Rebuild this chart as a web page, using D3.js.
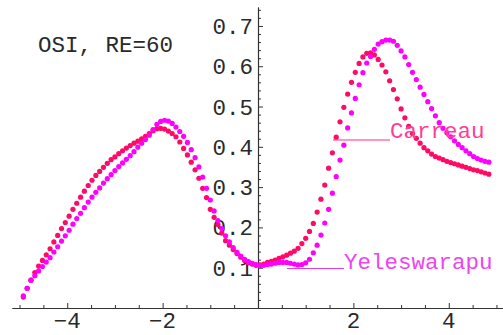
<!DOCTYPE html>
<html><head><meta charset="utf-8">
<script src="https://cdn.jsdelivr.net/npm/d3@7"></script>
<style>
html,body{margin:0;padding:0;background:#fff;}
svg{display:block;}
text{font-family:"Liberation Mono","DejaVu Sans Mono",monospace;}
</style></head>
<body>
<svg id="c" width="503" height="335"></svg>
<script>
const xValues = [
-4.92,-4.84,-4.76,-4.68,-4.60,-4.52,-4.44,-4.36,-4.28,-4.20,
-4.12,-4.04,-3.96,-3.88,-3.80,-3.72,-3.64,-3.56,-3.48,-3.40,
-3.32,-3.24,-3.16,-3.08,-3.00,-2.92,-2.84,-2.76,-2.68,-2.60,
-2.52,-2.44,-2.36,-2.28,-2.20,-2.12,-2.04,-1.96,-1.88,-1.80,
-1.72,-1.64,-1.56,-1.48,-1.40,-1.32,-1.24,-1.16,-1.08,-1.00,
-0.92,-0.84,-0.76,-0.68,-0.60,-0.52,-0.44,-0.36,-0.28,-0.20,
-0.12,-0.04,0.04,0.12,0.20,0.28,0.36,0.44,0.52,0.60,
0.68,0.76,0.84,0.92,1.00,1.08,1.16,1.24,1.32,1.40,
1.48,1.56,1.64,1.72,1.80,1.88,1.96,2.04,2.12,2.20,
2.28,2.36,2.44,2.52,2.60,2.68,2.76,2.84,2.92,3.00,
3.08,3.16,3.24,3.32,3.40,3.48,3.56,3.64,3.72,3.80,
3.88,3.96,4.04,4.12,4.20,4.28,4.36,4.44,4.52,4.60,
4.68,4.76,4.84];

const carreau = [
0.027,0.049,0.069,0.088,0.104,0.118,0.132,0.147,0.164,0.180,
0.197,0.212,0.228,0.245,0.260,0.275,0.290,0.304,0.317,0.329,
0.339,0.349,0.359,0.368,0.375,0.383,0.390,0.397,0.403,0.409,
0.414,0.420,0.426,0.433,0.440,0.445,0.446,0.444,0.439,0.433,
0.425,0.412,0.396,0.380,0.362,0.343,0.322,0.297,0.274,0.245,
0.225,0.207,0.186,0.167,0.156,0.145,0.135,0.126,0.118,0.112,
0.109,0.106,0.107,0.109,0.113,0.116,0.119,0.123,0.127,0.131,
0.136,0.141,0.148,0.160,0.173,0.190,0.210,0.238,0.270,0.305,
0.347,0.385,0.424,0.462,0.498,0.531,0.560,0.585,0.607,0.623,
0.632,0.633,0.628,0.617,0.603,0.586,0.564,0.542,0.519,0.494,
0.472,0.451,0.433,0.421,0.409,0.398,0.390,0.382,0.376,0.372,
0.368,0.364,0.361,0.358,0.355,0.352,0.349,0.346,0.343,0.341,
0.338,0.335,0.332];

const yeleswarapu = [
0.030,0.049,0.069,0.080,0.092,0.103,0.114,0.125,0.139,0.152,
0.166,0.179,0.193,0.208,0.222,0.235,0.249,0.263,0.275,0.287,
0.298,0.310,0.321,0.331,0.341,0.351,0.360,0.369,0.378,0.388,
0.399,0.409,0.418,0.429,0.443,0.456,0.463,0.466,0.464,0.458,
0.449,0.438,0.426,0.411,0.393,0.373,0.350,0.325,0.297,0.268,
0.241,0.217,0.197,0.179,0.164,0.150,0.138,0.129,0.121,0.115,
0.111,0.108,0.105,0.106,0.108,0.109,0.111,0.113,0.113,0.113,
0.111,0.109,0.107,0.108,0.112,0.121,0.137,0.156,0.181,0.211,
0.245,0.285,0.326,0.367,0.404,0.447,0.484,0.520,0.554,0.584,
0.608,0.624,0.642,0.655,0.661,0.665,0.665,0.662,0.652,0.638,
0.623,0.604,0.585,0.567,0.548,0.530,0.512,0.495,0.477,0.460,
0.446,0.435,0.425,0.415,0.406,0.398,0.390,0.383,0.376,0.371,
0.367,0.364,0.362];

const xTickLabels = [-4, -2, 2, 4];
const yTickLabels = [0.1, 0.2, 0.3, 0.4, 0.5, 0.6, 0.7];
const title = "OSI, RE=60";

const svg = d3.select("#c");
const x = d3.scaleLinear().domain([-5.158, 5.158]).range([12, 504]);
const y = d3.scaleLinear().domain([0, 0.747]).range([308, 7]);
const axisColor = "#333";

// x axis
const xMinor = d3.range(-10, 11).map(d => d / 2).filter(d => d % 2 !== 0 && d !== 0);
const xMajor = [-4, -2, 0, 2, 4];
const gx = svg.append("g").attr("transform", `translate(0,${y(0)})`);
gx.call(d3.axisTop(x).tickValues(xMinor).tickSize(3).tickFormat("").tickSizeOuter(0));
const gx2 = svg.append("g").attr("transform", `translate(0,${y(0)})`);
gx2.call(d3.axisTop(x).tickValues(xMajor).tickSize(5).tickFormat("").tickSizeOuter(0));
[gx, gx2].forEach(g => {
  g.selectAll("path.domain").attr("stroke", axisColor).attr("stroke-width", 1.1);
  g.selectAll("line").attr("stroke", axisColor);
});

// y axis
const yMinor = d3.range(1, 38).map(d => d * 0.02).filter(d => Math.abs(d * 10 - Math.round(d * 10)) > 1e-6);
const gy = svg.append("g").attr("transform", `translate(${x(0)},0)`);
gy.call(d3.axisRight(y).tickValues(yMinor).tickSize(3).tickFormat("").tickSizeOuter(0));
const gy2 = svg.append("g").attr("transform", `translate(${x(0)},0)`);
gy2.call(d3.axisRight(y).tickValues(yTickLabels).tickSize(5).tickFormat("").tickSizeOuter(0));
[gy, gy2].forEach(g => {
  g.selectAll("path.domain").attr("stroke", axisColor).attr("stroke-width", 1.1);
  g.selectAll("line").attr("stroke", axisColor);
});

const fs = 22.5;
svg.append("g").selectAll("text").data(yTickLabels).join("text")
  .attr("x", x(0) - 5).attr("y", d => y(d) + 8)
  .attr("text-anchor", "end").attr("font-size", fs).attr("fill", "#2a2a2a")
  .text(d => d3.format(".1f")(d));

svg.append("g").selectAll("text").data(xTickLabels).join("text")
  .attr("x", d => x(d)).attr("y", 328)
  .attr("text-anchor", "middle").attr("font-size", fs).attr("fill", "#2a2a2a")
  .text(d => d < 0 ? "\u2212" + Math.abs(d) : String(d));

// points
const series = [
  {name: "Carreau", vals: carreau, color: "#ff0a66"},
  {name: "Yeleswarapu", vals: yeleswarapu, color: "#ff00ff"}
];
series.forEach(s => {
  svg.append("g").selectAll("circle").data(xValues).join("circle")
    .attr("cx", d => x(d)).attr("cy", (d, i) => y(s.vals[i]))
    .attr("r", 2.6).attr("fill", s.color);
});

// title
svg.append("text").attr("x", 38).attr("y", 51.5).attr("font-size", fs)
  .attr("fill", "#2a2a2a").text(title);

// labels with leader lines
svg.append("line").attr("x1", 333).attr("x2", 390).attr("y1", 140).attr("y2", 140)
  .attr("stroke", "#ff2f80").attr("stroke-width", 1.2);
svg.append("text").attr("x", 390).attr("y", 138).attr("font-size", fs)
  .attr("fill", "#ff3d95").text("Carreau");
svg.append("line").attr("x1", 287).attr("x2", 344).attr("y1", 268.5).attr("y2", 268.5)
  .attr("stroke", "#e040e0").attr("stroke-width", 1.2);
svg.append("text").attr("x", 344).attr("y", 269).attr("font-size", fs)
  .attr("fill", "#ee44ee").text("Yeleswarapu");
</script>
</body></html>
